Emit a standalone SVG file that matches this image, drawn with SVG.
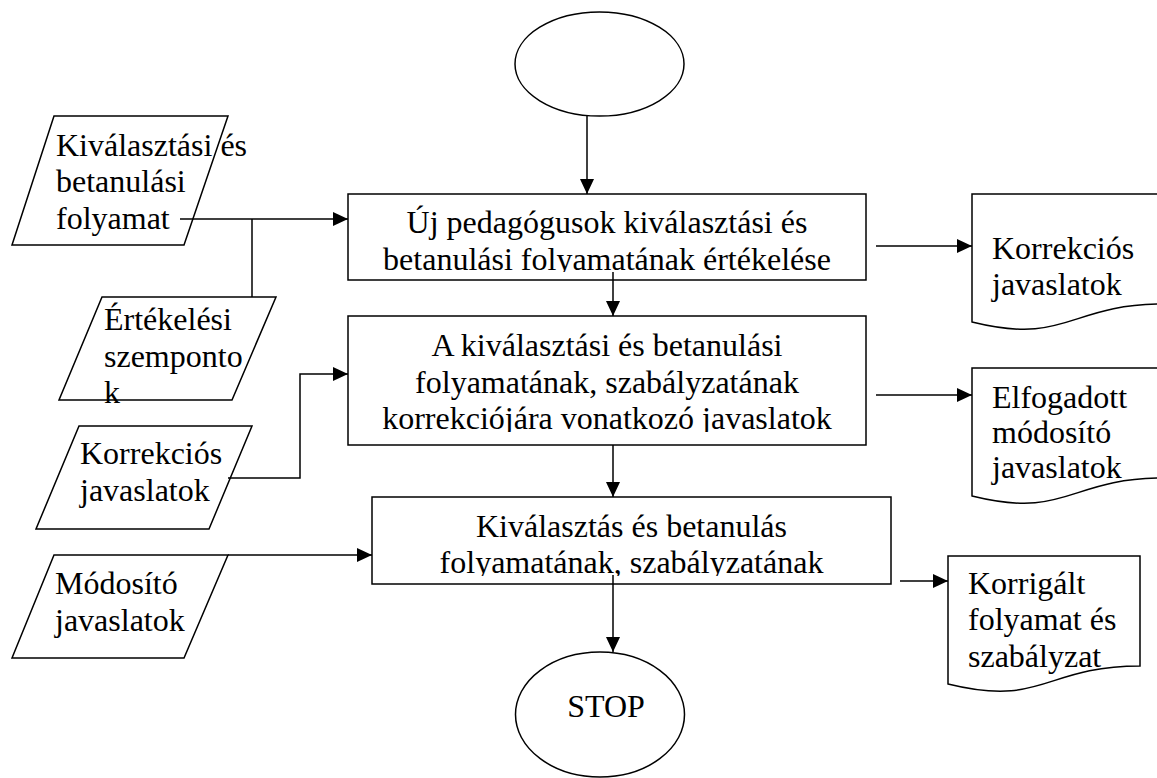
<svg xmlns="http://www.w3.org/2000/svg" width="1157" height="778" viewBox="0 0 1157 778">
<style>
.s{fill:#fff;stroke:#000;stroke-width:1.5}
.c{fill:none;stroke:#000;stroke-width:1.5}
text{font-family:"Liberation Serif","Times New Roman",serif;font-size:32px;fill:#000}
.m{text-anchor:middle}
</style>
<defs>
<marker id="ah" viewBox="0 0 15 14" refX="15" refY="7" markerWidth="15" markerHeight="14" markerUnits="userSpaceOnUse" orient="auto">
<path d="M0,0 L15,7 L0,14 Z" fill="#000"/>
</marker>
<clipPath id="cb1"><rect x="348" y="194" width="518" height="78"/></clipPath>
<clipPath id="cb2"><rect x="348" y="316" width="518" height="116"/></clipPath>
<clipPath id="cb3"><rect x="372" y="497" width="519" height="79"/></clipPath>
</defs>
<rect width="1157" height="778" fill="#fff"/>

<g id="start"><ellipse class="s" cx="599.5" cy="64" rx="84.5" ry="52"/></g>

<g id="in1">
<path class="s" d="M54,116 L228,116 L184,245 L12,245 Z"/>
<text x="56" y="155.5">Kiválasztási és</text>
<text x="56" y="192">betanulási</text>
<text x="56" y="228.5">folyamat</text>
</g>

<g id="in2">
<path class="s" d="M102,297 L276,297 L232,400 L59,400 Z"/>
<text x="104" y="330">Értékelési</text>
<text x="104" y="366.5">szemponto</text>
<text x="104" y="403">k</text>
</g>

<g id="in3">
<path class="s" d="M79,426 L252,426 L209,529 L36,529 Z"/>
<text x="80" y="464">Korrekciós</text>
<text x="80" y="501">javaslatok</text>
</g>

<g id="in4">
<path class="s" d="M54,555 L228,555 L184,658 L12,658 Z"/>
<text x="55" y="594">Módosító</text>
<text x="55" y="631">javaslatok</text>
</g>

<g id="box1">
<rect class="s" x="348" y="194" width="518" height="86"/>
<g clip-path="url(#cb1)">
<text class="m" x="607" y="233">Új pedagógusok kiválasztási és</text>
<text class="m" x="607" y="269.5">betanulási folyamatának értékelése</text>
</g>
</g>

<g id="box2">
<rect class="s" x="348" y="316" width="518" height="129"/>
<g clip-path="url(#cb2)">
<text class="m" x="607" y="356">A kiválasztási és betanulási</text>
<text class="m" x="607" y="392.5">folyamatának, szabályzatának</text>
<text class="m" x="607" y="429">korrekciójára vonatkozó javaslatok</text>
</g>
</g>

<g id="box3">
<rect class="s" x="372" y="497" width="519" height="87"/>
<g clip-path="url(#cb3)">
<text class="m" x="631.5" y="537">Kiválasztás és betanulás</text>
<text class="m" x="631.5" y="573">folyamatának, szabályzatának</text>
</g>
</g>

<g id="stop">
<ellipse class="s" cx="600" cy="714.5" rx="84.5" ry="62.5"/>
<text class="m" x="606" y="717">STOP</text>
</g>

<g id="doc1">
<path class="s" d="M972,194 H1164 V304 C1068,304 1068,345.7 972,322 Z"/>
<text x="992" y="259">Korrekciós</text>
<text x="992" y="295">javaslatok</text>
</g>

<g id="doc2">
<path class="s" d="M972,368 H1164 V478 C1068,478 1068,519.7 972,496 Z"/>
<text x="992" y="407.5">Elfogadott</text>
<text x="992" y="443">módosító</text>
<text x="992" y="478">javaslatok</text>
</g>

<g id="doc3">
<path class="s" d="M948,556 H1140 V666 C1044,666 1044,707.7 948,684 Z"/>
<text x="968" y="594">Korrigált</text>
<text x="968" y="630">folyamat és</text>
<text x="968" y="666.5">szabályzat</text>
</g>

<g id="connectors">
<path class="c" d="M587,116 V194" marker-end="url(#ah)"/>
<path class="c" d="M613,272 V316" marker-end="url(#ah)"/>
<path class="c" d="M613,445 V497" marker-end="url(#ah)"/>
<path class="c" d="M613,575 V652" marker-end="url(#ah)"/>
<path class="c" d="M180,219 H348" marker-end="url(#ah)"/>
<path class="c" d="M252,219 V297"/>
<path class="c" d="M228,478 H300 V374 H348" marker-end="url(#ah)"/>
<path class="c" d="M228,555 H372" marker-end="url(#ah)"/>
<path class="c" d="M876,246 H972" marker-end="url(#ah)"/>
<path class="c" d="M876,395 H972" marker-end="url(#ah)"/>
<path class="c" d="M900,581 H948" marker-end="url(#ah)"/>
</g>
</svg>
